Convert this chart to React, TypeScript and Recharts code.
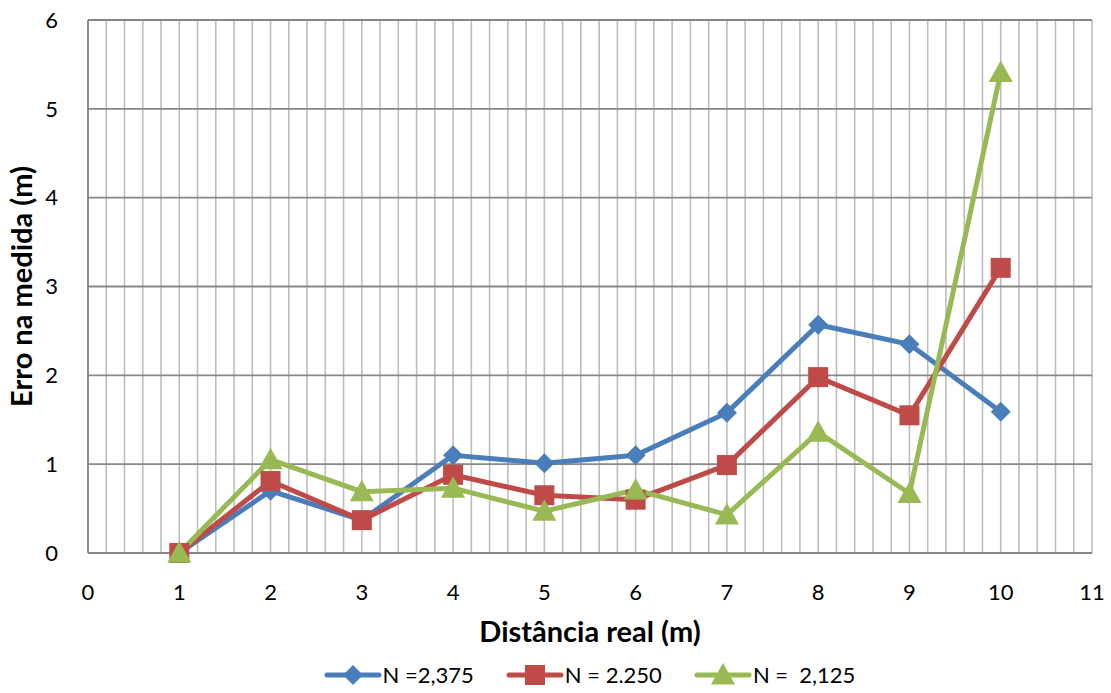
import React from 'react'
import { LineChart, Line, XAxis, YAxis, CartesianGrid, Legend } from 'recharts'

const distances = [1, 2, 3, 4, 5, 6, 7, 8, 9, 10]
const errN2375 = [0, 0.7, 0.37, 1.1, 1.01, 1.1, 1.58, 2.57, 2.35, 1.59]
const errN2250 = [0, 0.81, 0.37, 0.88, 0.65, 0.6, 0.99, 1.98, 1.55, 3.21]
const errN2125 = [0, 1.05, 0.69, 0.73, 0.47, 0.71, 0.43, 1.36, 0.67, 5.41]

const xTicks = [0, 1, 2, 3, 4, 5, 6, 7, 8, 9, 10, 11]
const yTicks = [0, 1, 2, 3, 4, 5, 6]
// minor vertical gridlines every 0.2
const minorX = Array.from({ length: 56 }, (_, i) => Math.round(i * 2) / 10)

const series = [
  { key: 'a', name: 'N =2,375', color: '#4A7EBB', shape: 'diamond' },
  { key: 'b', name: 'N = 2.250', color: '#BE4B48', shape: 'square' },
  { key: 'c', name: 'N =  2,125', color: '#98B954', shape: 'triangle' },
]

const data = distances.map((d, i) => ({ x: d, a: errN2375[i], b: errN2250[i], c: errN2125[i] }))

const FONT = "Lato, 'Open Sans', sans-serif"

function Marker({ cx, cy, shape, color }: any) {
  if (cx == null || cy == null) return null
  if (shape === 'diamond') {
    const r = 10
    return <polygon points={`${cx},${cy - r} ${cx + r},${cy} ${cx},${cy + r} ${cx - r},${cy}`} fill={color} />
  }
  if (shape === 'square') {
    const r = 10
    return <rect x={cx - r} y={cy - r} width={2 * r} height={2 * r} fill={color} />
  }
  const r = 12
  return <polygon points={`${cx},${cy - r} ${cx + r},${cy + r * 0.8} ${cx - r},${cy + r * 0.8}`} fill={color} />
}

function LegendContent() {
  return (
    <div style={{ display: 'flex', justifyContent: 'center', gap: 32, fontFamily: FONT, fontSize: 22, color: '#000' }}>
      {series.map(s => (
        <div key={s.key} style={{ display: 'flex', alignItems: 'center' }}>
          <svg width={58} height={26}>
            <line x1={3} y1={13} x2={55} y2={13} stroke={s.color} strokeWidth={5} strokeLinecap="round" />
            <Marker cx={29} cy={13} shape={s.shape} color={s.color} />
          </svg>
          <span style={{ whiteSpace: 'pre', marginLeft: 1 }}>{s.name}</span>
        </div>
      ))}
    </div>
  )
}

export default function App() {
  return (
    <div style={{ position: 'absolute', left: 0, top: 0, background: '#fff' }}>
      <LineChart width={1111} height={693} data={data} margin={{ top: 20, right: 19, bottom: 0, left: 0 }}>
        <XAxis xAxisId="minor" dataKey="x" type="number" domain={[0, 11]} ticks={minorX} interval={0} hide />
        <CartesianGrid xAxisId="minor" horizontal={false} stroke="#BDBDBD" strokeWidth={1.6} />
        <CartesianGrid vertical={false} stroke="#878787" strokeWidth={1.8} />
        <XAxis
          dataKey="x"
          type="number"
          domain={[0, 11]}
          ticks={xTicks}
          interval={0}
          tickLine={false}
          axisLine={{ stroke: '#878787', strokeWidth: 1.8 }}
          tickMargin={25}
          height={140}
          tick={{ fill: '#000', fontSize: 22, fontFamily: FONT }}
          label={{ value: 'Distância real (m)', position: 'insideTop', offset: 68, fill: '#000', fontSize: 29, fontWeight: 700, fontFamily: FONT }}
        />
        <YAxis
          type="number"
          domain={[0, 6]}
          ticks={yTicks}
          interval={0}
          tickLine={false}
          axisLine={{ stroke: '#878787', strokeWidth: 1.8 }}
          tickMargin={24}
          width={88}
          tick={{ fill: '#000', fontSize: 22, fontFamily: FONT }}
          label={{ value: 'Erro na medida (m)', angle: -90, position: 'insideLeft', offset: 22, style: { textAnchor: 'middle' }, fill: '#000', fontSize: 29, fontWeight: 700, fontFamily: FONT }}
        />
        {series.map(s => (
          <Line
            key={s.key}
            dataKey={s.key}
            name={s.name}
            type="linear"
            stroke={s.color}
            strokeWidth={5}
            dot={(p: any) => <Marker key={`${s.key}-${p.index}`} cx={p.cx} cy={p.cy} shape={s.shape} color={s.color} />}
            activeDot={false}
            isAnimationActive={false}
          />
        ))}
        <Legend verticalAlign="middle" layout="horizontal" content={<LegendContent />} wrapperStyle={{ top: 661, left: 34, width: 1111 }} />
      </LineChart>
    </div>
  )
}
